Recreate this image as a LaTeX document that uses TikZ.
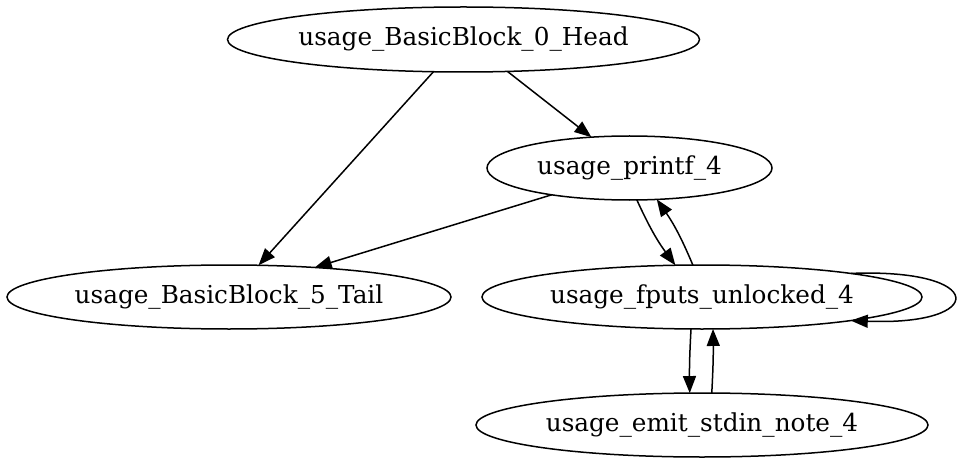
\documentclass[tikz,border=0pt]{standalone}
\usepackage{fontspec}
\setmainfont{DejaVu Serif}
\usetikzlibrary{shapes.geometric,arrows.meta}
\begin{document}
\begin{tikzpicture}[x=1pt,y=1pt,
  gnode/.style={draw,ellipse,line width=1.5pt,inner sep=0pt,outer sep=0pt,font=\fontsize{24.7}{29}\selectfont},
  edge/.style={draw,line width=1.5pt,-{Triangle[length=17pt,width=13pt]}}]
\useasboundingbox (0,0) rectangle (960,-465);
\node[gnode,minimum width=472pt,minimum height=65pt] (head) at (463.5,-39.5) {usage\_BasicBlock\_0\_Head};
\node[gnode,minimum width=285pt,minimum height=64pt] (printf) at (629.5,-168) {usage\_printf\_4};
\node[gnode,minimum width=444pt,minimum height=64pt] (tail) at (229,-297) {usage\_BasicBlock\_5\_Tail};
\node[gnode,minimum width=440pt,minimum height=64pt] (fputs) at (702,-297) {usage\_fputs\_unlocked\_4};
\node[gnode,minimum width=452pt,minimum height=64pt] (emit) at (702,-425) {usage\_emit\_stdin\_note\_4};
\draw[edge] (head.-133) -- (tail.47);
\draw[edge] (head.-36) -- (printf.141);
\draw[edge] (printf.-161) -- (tail.19);
\draw[edge] (printf.-77) to[bend right=6] (fputs.130);
\draw[edge] (fputs.106) to[bend right=6] (printf.-49);
\draw[edge] (fputs.9.4) .. controls (988,-268) and (988,-326) .. (fputs.-9.3);
\draw[edge] (fputs.-109) to[bend right=2] (emit.111);
\draw[edge] (emit.73) to[bend right=2] (fputs.-71);
\end{tikzpicture}
\end{document}
